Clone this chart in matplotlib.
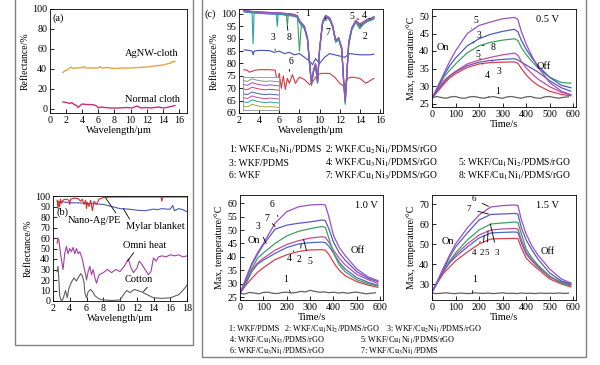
import matplotlib
matplotlib.use("Agg")
import matplotlib.pyplot as plt
from matplotlib.patches import Rectangle

plt.rcParams["font.family"] = ["Liberation Serif", "DejaVu Serif"]
plt.rcParams["mathtext.fontset"] = "stix"
plt.rcParams["font.size"] = 7.5

W, H = 600, 365

# ---------------- (a) ----------------
a_ag_x = [1.6, 1.8, 2.0, 2.3, 2.6, 2.8, 3.0, 3.5, 4.0, 4.2, 4.5, 5, 6.0, 6.2, 6.5, 7, 8, 9, 10, 11, 12, 13, 14, 14.5, 15, 15.1, 15.5]
a_ag_y = [36.5, 38, 38.5, 40, 42, 40.5, 41, 41, 41.5, 42.5, 41, 41, 41, 42.5, 41, 41.5, 40.5, 41, 41, 41.5, 42, 43, 44, 45, 46, 47, 47.5]
a_nc_x = [1.6, 2.0, 2.5, 2.7, 3.0, 3.3, 3.5, 3.8, 4.0, 4.5, 5.0, 5.5, 5.8, 6.0, 6.3, 6.8, 7.5, 8.5, 9.5, 10.2, 10.8, 11.3, 12, 12.5, 13, 13.5, 14, 14.5, 15, 15.5]
a_nc_y = [7, 6.5, 5.5, 6.5, 4.5, 3.5, 1.5, 4, 5, 4.5, 4.5, 4, 3, 1, 2, 1.5, 1, 1, 1.5, 1, 3, 1, 1.5, 1, 1.5, 2, 1, 1.5, 2.5, 3.5]

# ---------------- (b) ----------------
b_ag_x = [2.5, 2.6, 2.7, 2.8, 2.9, 3.0, 3.2, 3.5, 3.9, 4.0, 4.1, 4.5, 5.0, 5.3, 5.5, 5.7, 5.9, 6.0, 6.1, 6.3, 6.5, 6.7, 6.9, 7.2, 7.5, 8, 9, 10, 11, 12, 13, 14, 14.9, 15.0, 15.1, 16, 17, 18]
b_ag_y = [96, 88, 95, 90, 97, 93, 96, 97, 96, 92, 97, 98, 97.5, 95, 97, 92, 96, 88, 94, 90, 96, 86, 95, 92, 97, 98.5, 99, 99, 99, 99, 99, 99, 99, 95, 99, 99, 99, 99]
b_my_x = [2.5, 3, 3.5, 4, 5, 6, 7, 8, 9, 10, 11, 12, 13, 14, 14.5, 15, 15.5, 16, 16.3, 16.5, 17, 17.5, 18]
b_my_y = [95, 94.5, 94, 93.5, 93.5, 93, 92.5, 92, 90, 88, 87.5, 86.5, 86, 87.5, 87, 88, 87.5, 87.5, 91, 86, 88, 87, 85]
b_om_x = [2.5, 2.6, 2.7, 2.9, 3.0, 3.2, 3.4, 3.6, 3.8, 4.0, 4.2, 4.4, 4.6, 4.8, 5.0, 5.2, 5.5, 5.7, 5.9, 6.0, 6.2, 6.4, 6.6, 6.8, 7.0, 7.2, 7.5, 8.0, 8.5, 9.0, 9.5, 10.0, 10.5, 11.0, 11.3, 11.6, 12.0, 12.3, 12.6, 13.0, 13.4, 13.7, 14.0, 14.3, 14.6, 15, 15.5, 16, 16.5, 17, 17.5, 18]
b_om_y = [55, 60, 58, 45, 40, 30, 45, 52, 45, 50, 47, 51, 45, 50, 45, 47, 40, 32, 25, 20, 28, 33, 25, 30, 22, 17, 25, 27, 30, 27, 30, 28, 33, 40, 32, 27, 31, 38, 35, 30, 25, 28, 41, 38, 42, 43, 42, 44, 43, 44, 42, 43]
b_co_x = [2.5, 2.6, 2.7, 2.8, 3.0, 3.2, 3.5, 3.7, 3.9, 4.2, 4.5, 4.8, 5.0, 5.3, 5.5, 5.7, 5.8, 6.0, 6.2, 6.5, 6.8, 7.0, 7.5, 8, 9, 10, 10.5, 10.8, 11.2, 11.7, 12.5, 13, 13.5, 14, 15, 16, 17, 17.5, 18]
b_co_y = [28, 33, 20, 5, 0, 2, 10, 3, 12, 18, 22, 19, 22, 26, 24, 18, 8, 3, 9, 11, 8, 5, 2, 1, 0.5, 1, 7, 10, 8, 11, 9, 7, 5, 3, 2.5, 3, 6, 10, 15]

# ---------------- (c) spectra ----------------
c_w = [2.5, 3.0, 3.3, 3.4, 3.5, 4.0, 5.0, 5.7, 5.8, 5.9, 6.5, 6.7, 6.8, 6.9, 7.5, 7.8, 8.0, 8.2, 8.5, 8.8, 9.0, 9.2, 9.4, 9.6, 9.8, 10.0, 10.3, 10.6, 11.0, 11.3, 11.6, 11.9, 12.2, 12.4, 12.55, 12.7, 12.9, 13.2, 13.6, 14.0, 14.4, 14.8, 15.2, 15.4]
c_pur = [101.5, 101.2, 101, 101, 101, 100.8, 100.6, 100.5, 100.3, 100.5, 100.3, 100.2, 100, 100.2, 99.8, 99.3, 97.5, 96.5, 95, 90.5, 81, 72.5, 77.5, 80, 73, 86, 97, 99.5, 98.5, 95.5, 89.5, 90.5, 86.5, 73, 65, 76, 89, 94.5, 97.5, 96, 97, 98, 98.5, 99]
c_teal = [101, 100.7, 100.5, 88, 100.4, 100.3, 100.1, 100, 95, 100, 99.8, 99.6, 99.4, 99.6, 99.3, 98.8, 96.8, 95.8, 94.2, 89.5, 79.5, 71.5, 76.5, 79, 72, 85, 96, 98.8, 97.8, 94.8, 88.5, 89.5, 85.5, 71.5, 63.5, 74.5, 87.5, 93.5, 96.5, 94, 96, 97, 97.5, 98]
c_grn = [101.2, 101, 100.8, 100.8, 100.8, 100.6, 100.4, 100.3, 100.1, 100.3, 100, 99.8, 95, 99.8, 99.5, 99, 85, 96, 94.5, 90, 80, 72, 77, 79.5, 72.5, 85.5, 96.5, 99, 98, 95, 89, 90, 86, 72, 64, 75, 88, 94, 97, 95.5, 96.5, 97.5, 98, 98.5]
c_red = [101.3, 101.1, 100.9, 100.9, 100.9, 100.7, 100.5, 100.4, 100.2, 100.4, 100.1, 100, 99.8, 100, 99.6, 99.1, 97.2, 96.2, 94.8, 90.2, 80.5, 71, 77, 79.8, 72.2, 85.8, 96.8, 99.3, 98.3, 95.3, 89.2, 90.2, 86.2, 72.5, 66, 75.5, 88.5, 94.2, 97.2, 94.5, 96, 97.5, 98.3, 98.8]
c_blu = [100.8, 100.6, 100.4, 100.4, 100.4, 100.2, 100, 99.9, 99.7, 99.9, 99.6, 99.4, 99.2, 99.4, 99, 98.5, 96.5, 95.5, 94, 89.5, 79.8, 71.8, 76.8, 79.2, 72.2, 85.2, 96.2, 98.6, 97.6, 94.6, 88.8, 89.8, 85.8, 72, 64.5, 75, 88, 93.8, 96.8, 95.2, 96.2, 97.2, 97.8, 98.2]
c_mag = [101.4, 101.2, 101, 101, 101, 100.8, 100.6, 100.4, 100.3, 100.4, 100.2, 100.1, 99.9, 100.1, 99.7, 99.2, 97.3, 96.3, 94.8, 90.3, 80.8, 72.3, 77.3, 79.8, 72.8, 85.8, 96.8, 99.2, 98.2, 95.2, 89.3, 90.3, 86.3, 72.8, 64.8, 75.8, 88.8, 94.3, 97.3, 95.8, 96.8, 97.8, 98.3, 98.7]
c3_w = [2.5, 3.0, 3.3, 3.4, 3.5, 4.0, 5.0, 5.5, 6.0, 6.5, 7.0, 7.5, 8.0, 8.5, 9.0, 9.3, 9.6, 10.0, 10.5, 11.0, 11.5, 12.0, 12.5, 13.0, 14.0, 15.0, 15.4]
c3_r = [85.5, 85.3, 85, 83.5, 85, 85.3, 85.2, 84.5, 85, 84, 84.5, 83.5, 84, 82.5, 81, 79.5, 82, 80, 82.5, 84, 83.5, 83, 82.5, 84, 83.5, 83.5, 83.8]
c6_w = [2.5, 2.8, 3.0, 3.3, 3.5, 4.0, 5.0, 5.6, 5.8, 6.0, 6.2, 6.4, 6.6, 6.8, 7.0, 7.3, 7.6, 8.0, 8.5, 9.0, 9.3, 9.8, 10.2, 11.0, 11.5, 12.0, 12.5, 12.8, 13.2, 14.0, 14.6, 15.0, 15.4]
c6_r = [77.5, 77.3, 76.5, 76.8, 77.2, 77.5, 77.5, 77.3, 72, 76, 70, 75, 69.5, 74, 72, 75.5, 72, 74.5, 73.5, 71.5, 72.5, 75.5, 76, 76, 74.5, 72, 70.5, 74, 74.5, 74, 72, 73, 74]
ins_x = [0, 1, 2, 3, 4, 5, 6, 7, 8]
ins_lines = [
    [8.2, 8.0, 8.6, 8.3, 8.1, 8.0, 8.1, 8.0, 7.9],
    [7.3, 7.1, 7.7, 7.4, 7.2, 7.1, 7.2, 7.1, 7.0],
    [6.3, 6.1, 6.7, 6.4, 6.2, 6.1, 6.2, 6.1, 6.0],
    [5.2, 5.0, 5.6, 5.3, 5.1, 5.0, 5.1, 5.0, 4.9],
    [4.3, 4.1, 4.7, 4.4, 4.2, 4.1, 4.2, 4.1, 4.0],
    [3.4, 3.2, 3.8, 3.5, 3.3, 3.2, 3.3, 3.2, 3.1],
    [2.4, 2.2, 2.8, 2.5, 2.3, 2.2, 2.3, 2.2, 2.1],
]
ins_cols = ["#909090", "#9a50c0", "#d04060", "#4a60c0", "#c050a0", "#30a0a0", "#a0b040"]

# ---------------- temperature curves ----------------
t = [0, 25, 50, 75, 100, 150, 200, 250, 300, 350, 365, 380, 400, 425, 450, 500, 550, 590]
t1 = [0, 20, 40, 60, 80, 100, 120, 140, 160, 180, 200, 220, 240, 260, 280, 300, 320, 340, 360, 380, 400, 420, 440, 460, 480, 500, 520, 540, 560, 580]
v05_5a = [26.5, 30, 33.5, 37, 40, 45, 47.3, 48.3, 49.2, 49.6, 49, 45.5, 42, 38.5, 35.5, 31, 28.5, 27.5]
v05_3a = [26.5, 29.5, 33, 35.8, 38, 41.5, 43.5, 44.8, 45.6, 46.2, 45.5, 43, 40.5, 38, 35.8, 32.5, 30.2, 29.5]
v05_8 = [26.5, 29.5, 32.5, 34.5, 36.3, 39.5, 41.5, 42.5, 43.1, 43.5, 43, 41, 39, 37, 35.2, 32.5, 31, 30.8]
v05_5b = [26.5, 29, 31.5, 33, 34.2, 36.3, 37.4, 38.2, 38.9, 39.4, 38.8, 37, 35.2, 33.5, 32, 29.8, 28.2, 27.5]
v05_3b = [26.5, 28.8, 31, 32.8, 34, 35.8, 36.8, 37.3, 37.6, 37.8, 37.4, 36.8, 36, 35, 34, 31.5, 29.5, 28.5]
v05_4 = [26.5, 28.5, 30.5, 32.3, 33.5, 35.3, 36.3, 36.7, 36.8, 36.9, 36.5, 35, 33.2, 31.5, 30.2, 28.5, 27.6, 27.2]
v05_1 = [26.6, 27.0, 26.7, 26.5, 26.9, 27.0, 26.6, 26.5, 26.9, 27.0, 26.7, 26.5, 26.8, 27.0, 26.7, 26.5, 26.9, 27.0, 26.7, 26.5, 26.9, 27.0, 26.6, 26.5, 26.9, 27.0, 26.7, 26.5, 26.8, 26.9]

v10_6 = [26.5, 32, 37.5, 41.5, 45, 52.5, 56.8, 58.6, 59.3, 59.5, 59.3, 55, 48, 43.5, 40.5, 35.5, 32.5, 31.2]
v10_7 = [26.5, 31.5, 37, 41, 44.5, 50.3, 51.8, 52.5, 53, 53.7, 53.5, 50.5, 45.5, 41.5, 38.8, 34.5, 32, 30.8]
v10_3 = [26.5, 30.5, 35.5, 39.5, 41.5, 45, 47.8, 49.5, 50.5, 51.3, 51, 47, 41.5, 37, 34.5, 31.5, 30, 29.2]
v10_5 = [26.5, 30.5, 35, 37.8, 39.5, 42.5, 44.6, 46, 47, 47.5, 47.3, 45.5, 42.5, 39.5, 37, 33.5, 31.5, 30.2]
v10_2 = [26.5, 30, 34.5, 37.3, 38.8, 41.3, 43.5, 44.8, 45.3, 45.5, 45.3, 44, 41.5, 38, 35.5, 32.3, 30.5, 29.5]
v10_4 = [26.5, 29.5, 32, 34.3, 36, 39, 40.8, 42, 42.6, 42.7, 42.5, 41, 38, 35, 33, 30.8, 29.5, 28.7]
v10_1 = [26.5, 26.2, 26.8, 26.6, 26.3, 26.8, 26.9, 26.5, 26.4, 26.8, 26.9, 26.6, 26.8, 27.2, 27.0, 27.6, 27.2, 26.9, 27.0, 26.7, 26.9, 26.6, 26.8, 26.5, 26.8, 26.9, 26.6, 26.3, 26.5, 26.7]

v15_6 = [26, 32, 38.5, 44.5, 50, 58, 64.5, 68.5, 69.2, 69.5, 69.3, 62, 55, 49, 44.5, 37.5, 32.5, 30.5]
v15_7 = [26, 31.5, 37.5, 43.5, 48.5, 55.5, 62, 64.8, 65, 65.3, 65, 58, 52, 47, 42.5, 35.5, 31.5, 30]
v15_3 = [26, 31.5, 37, 41.5, 45.5, 52, 57, 60, 60.5, 61, 60.8, 55, 47.5, 43, 39.5, 34, 30.5, 29]
v15_5 = [26, 31.5, 36.5, 41, 44.5, 50, 54.5, 57, 57.5, 57.8, 57.5, 52, 46, 42, 39, 33.5, 30.5, 29.5]
v15_2 = [26, 31.5, 36.5, 40.5, 43.5, 48.5, 53, 55.5, 55.8, 56, 55.8, 50.5, 45, 41.5, 38.5, 33.5, 31, 30]
v15_4 = [26, 31, 35.5, 38.5, 41.5, 46, 50, 52.5, 52.7, 52.8, 52.7, 48, 43, 40, 37.5, 32.5, 30, 28.5]
v15_1 = [25.5, 25.2, 25.4, 25.6, 25.3, 25.2, 25.5, 25.3, 25.2, 25.6, 25.4, 25.3, 25.5, 25.2, 25.4, 25.6, 25.3, 25.4, 25.2, 25.5, 25.3, 25.4, 25.2, 25.5, 25.3, 25.4, 25.3, 25.5, 25.3, 25.4]

PUR, BPU, GRN, MAG, BLU, RED, GRY = "#9a4fc8", "#5a5ac0", "#3fa060", "#c24c9e", "#4a68c8", "#d8404f", "#606060"


def box(x0, y0, x1, y1):
    return [x0 / W, 1 - y1 / H, (x1 - x0) / W, (y1 - y0) / H]


def ftext(x, y, s, **kw):
    fig.text(x / W, 1 - y / H, s, **kw)


def style(ax):
    ax.tick_params(direction="in", length=3, width=0.6, labelsize=7.2, pad=2)
    for sp in ax.spines.values():
        sp.set_linewidth(0.6)


def lead(ax, s, xy, xyt, fs=7):
    ax.annotate(s, xy=xy, xytext=xyt, ha="center", va="center", fontsize=fs,
                arrowprops=dict(arrowstyle="-", lw=0.6, color="k", shrinkA=3, shrinkB=0))


fig = plt.figure(figsize=(6, 3.65), dpi=100)

# frames
fig.patches.append(Rectangle((15 / W, 1 - 345 / H), 178 / W, 350 / H, transform=fig.transFigure,
                             fill=False, edgecolor="#808080", lw=1))
fig.patches.append(Rectangle((202 / W, 1 - 357 / H), 384 / W, 362 / H, transform=fig.transFigure,
                             fill=False, edgecolor="#808080", lw=1))

# (a)
ax = fig.add_axes(box(50, 9, 187, 113))
ax.plot(a_ag_x, a_ag_y, color="#e3a545", lw=1)
ax.plot(a_nc_x, a_nc_y, color="#c0307e", lw=1)
ax.set_xlim(0, 17)
ax.set_ylim(-4, 100)
ax.set_xticks(range(0, 17, 2))
ax.set_yticks(range(0, 101, 20))
ax.set_xlabel("Wavelength/μm", labelpad=1)
ax.set_ylabel("Reflectance/%", labelpad=2, fontsize=7)
ax.text(0.3, 96, "(a)", va="top")
ax.text(9.3, 56, "AgNW-cloth", va="center")
ax.text(9.3, 10, "Normal cloth", va="center")
style(ax)

# (b)
ax = fig.add_axes(box(53, 196, 187, 301))
ax.plot(b_co_x, b_co_y, color=GRY, lw=0.8)
ax.plot(b_om_x, b_om_y, color="#a43ea6", lw=0.8)
ax.plot(b_my_x, b_my_y, color="#4a5ab0", lw=0.8)
ax.plot(b_ag_x, b_ag_y, color="#d03030", lw=0.8)
ax.set_xlim(2, 18)
ax.set_ylim(0, 100)
ax.set_xticks(range(2, 19, 2))
ax.set_yticks(range(0, 101, 10))
ax.set_xlabel("Wavelength/μm", labelpad=1)
ax.set_ylabel("Reflectance/%", labelpad=2, fontsize=7)
ax.text(2.4, 85, "(b)", va="center")
ax.annotate("Nano-Ag/PE", xy=(8.3, 98), xytext=(3.8, 77), va="center", fontsize=7.5,
            arrowprops=dict(arrowstyle="-", lw=0.6, shrinkA=0, shrinkB=0, relpos=(0.95, 0.8)))
ax.annotate("Mylar blanket", xy=(10.4, 88), xytext=(10.7, 71), va="center", fontsize=7.5,
            arrowprops=dict(arrowstyle="-", lw=0.6, shrinkA=0, shrinkB=0, relpos=(0.1, 0.9)))
ax.annotate("Omni heat", xy=(10.9, 38), xytext=(10.4, 53), va="center", fontsize=7.5,
            arrowprops=dict(arrowstyle="-", lw=0.6, shrinkA=0, shrinkB=0, relpos=(0.3, 0.1)))
ax.annotate("Cotton", xy=(12.8, 9), xytext=(10.6, 20), va="center", fontsize=7.5,
            arrowprops=dict(arrowstyle="-", lw=0.6, shrinkA=0, shrinkB=0, relpos=(0.9, 0.1)))
style(ax)

# (c) spectra
ax = fig.add_axes(box(239, 9, 383, 113))
ax.plot(c6_w, c6_r, color="#d03a44", lw=0.8)
ax.plot(c3_w, c3_r, color="#3c50b8", lw=0.8)
for yy, cc in [(c_blu, BLU), (c_red, RED), (c_grn, GRN), (c_mag, MAG), (c_teal, "#30a0a0"), (c_pur, PUR)]:
    ax.plot(c_w, yy, color=cc, lw=0.8)
ax.set_xlim(2, 16.3)
ax.set_ylim(60, 102)
ax.set_xticks(range(2, 17, 2))
ax.set_yticks(range(60, 101, 5))
ax.set_xlabel("Wavelength/μm", labelpad=1)
ax.set_ylabel("Reflectance/%", labelpad=2, fontsize=7)
lead(ax, "1", (7.8, 100.6), (8.8, 100.2))
lead(ax, "3", (5.6, 85.3), (5.35, 90.4))
lead(ax, "8", (6.8, 95), (6.95, 90.4))
lead(ax, "7", (10.6, 98.6), (10.8, 92.6))
lead(ax, "5", (13.9, 97.8), (13.2, 98.9))
lead(ax, "4", (15.0, 98.0), (14.4, 99.3))
lead(ax, "2", (14.1, 95.5), (14.5, 90.8))
lead(ax, "6", (7.0, 76.8), (7.15, 80.6))
style(ax)
ftext(204, 14, "(c)", va="center", ha="left")

axi = fig.add_axes(box(243, 77, 279, 110))
for yy, cc in zip(ins_lines, ins_cols):
    axi.plot(ins_x, yy, color=cc, lw=0.7)
axi.set_xlim(0, 8)
axi.set_ylim(1.5, 9)
axi.set_xticks([])
axi.set_yticks([])
for sp in axi.spines.values():
    sp.set_color("#909090")
    sp.set_linewidth(0.6)

# legend for (c) and 0.5 V
leg_c = [
    (229, 150, r"1: WKF/Cu$_3$Ni$_1$/PDMS"), (325, 150, r"2: WKF/Cu$_2$Ni$_1$/PDMS/rGO"),
    (229, 163, "3: WKF/PDMS"), (325, 163, r"4: WKF/Cu$_3$Ni$_1$/PDMS/rGO"), (458, 163, r"5: WKF/Cu$_1$Ni$_2$/PDMS/rGO"),
    (229, 176, "6: WKF"), (325, 176, r"7: WKF/Cu$_1$Ni$_3$/PDMS/rGO"), (458, 176, r"8: WKF/Cu$_1$Ni$_1$/PDMS/rGO"),
]
for x, y, s in leg_c:
    ftext(x, y, s, va="center", ha="left", fontsize=6.9)

# 0.5 V
ax = fig.add_axes(box(432, 9, 576, 107))
ax.plot(t1, v05_1, color=GRY, lw=0.9)
for yy, cc in [(v05_4, RED), (v05_3b, BPU), (v05_5b, MAG), (v05_8, GRN), (v05_3a, "#4a5cc0"), (v05_5a, PUR)]:
    ax.plot(t, yy, color=cc, lw=0.9)
ax.set_xlim(0, 612)
ax.set_ylim(24, 52)
ax.set_xticks(range(0, 601, 100))
ax.set_yticks(range(25, 51, 5))
ax.set_xlabel("Time/s", labelpad=1)
ax.set_ylabel("Max, temperature/°C", labelpad=2, fontsize=7)
ax.text(491, 49, "0.5 V", ha="center", va="center")
ax.text(21, 41, "On", va="center")
ax.text(474, 35.7, "Off", ha="center", va="center")
lead(ax, "5", (168, 46.5), (188, 48.6))
lead(ax, "3", (175, 42.3), (200, 44.3))
lead(ax, "8", (215, 41.6), (261, 40.9))
lead(ax, "5", (205, 37.6), (197, 39.1))
lead(ax, "3", (255, 37.2), (286, 34))
lead(ax, "4", (215, 36.3), (235, 33.1))
lead(ax, "1", (240, 26.9), (278, 28.3))
style(ax)

# 1.0 V
ax = fig.add_axes(box(240, 195, 383, 300))
ax.plot(t1, v10_1, color=GRY, lw=0.9)
for yy, cc in [(v10_4, RED), (v10_2, BLU), (v10_5, MAG), (v10_3, GRN), (v10_7, BPU), (v10_6, PUR)]:
    ax.plot(t, yy, color=cc, lw=0.9)
ax.set_xlim(0, 612)
ax.set_ylim(24, 63)
ax.set_xticks(range(0, 601, 100))
ax.set_yticks(range(25, 61, 5))
ax.set_xlabel("Time/s", labelpad=1)
ax.set_ylabel("Max, temperature/°C", labelpad=2, fontsize=7)
ax.text(539, 59.2, "1.0 V", ha="center", va="center")
ax.text(34, 46.1, "On", va="center")
ax.text(504, 42.3, "Off", ha="center", va="center")
lead(ax, "6", (162, 55), (138, 59.6))
lead(ax, "7", (150, 51.3), (116, 54.4))
lead(ax, "3", (112, 45), (78, 51.4))
lead(ax, "4", (230, 42.3), (211, 39.3))
lead(ax, "2", (262, 44.9), (254, 39))
lead(ax, "5", (272, 46.5), (297, 38.2))
lead(ax, "1", (215, 26.9), (194, 31.8))
style(ax)

# 1.5 V
ax = fig.add_axes(box(432, 195, 576, 300))
ax.plot(t1, v15_1, color=GRY, lw=0.9)
for yy, cc in [(v15_4, RED), (v15_2, BLU), (v15_5, MAG), (v15_3, GRN), (v15_7, BPU), (v15_6, PUR)]:
    ax.plot(t, yy, color=cc, lw=0.9)
ax.set_xlim(0, 612)
ax.set_ylim(22, 74.5)
ax.set_xticks(range(0, 601, 100))
ax.set_yticks(range(30, 71, 10))
ax.set_xlabel("Time/s", labelpad=1)
ax.set_ylabel("Max, temperature/°C", labelpad=2, fontsize=7)
ax.text(491, 69, "1.5 V", ha="center", va="center")
ax.text(43, 51.5, "On", va="center")
ax.text(491, 46.5, "Off", ha="center", va="center")
lead(ax, "6", (240, 68.8), (176, 72.5), fs=6.5)
lead(ax, "7", (240, 65), (156, 67.5), fs=6.5)
lead(ax, "4", (205, 51.3), (180, 45.5), fs=6.5)
lead(ax, "2", (222, 54.3), (212, 45.5), fs=6.5)
lead(ax, "5", (238, 56.5), (234, 45.5), fs=6.5)
lead(ax, "3", (248, 60), (276, 45.5), fs=6.5)
lead(ax, "1", (172, 25.4), (180, 32.5))
style(ax)

leg_t = [
    (229, 329, "1: WKF/PDMS"), (284, 329, r"2: WKF/Cu$_1$Ni$_2$/PDMS/rGO"), (386, 329, r"3: WKF/Cu$_2$Ni$_1$/PDMS/rGO"),
    (229, 340, r"4: WKF/Cu$_1$Ni$_3$/PDMS/rGO"), (360, 340, r"5: WKF/Cu$_1$Ni$_1$/PDMS/rGO"),
    (229, 351, r"6: WKF/Cu$_3$Ni$_1$/PDMS/rGO"), (360, 351, r"7: WKF/Cu$_3$Ni$_1$/PDMS"),
]
for x, y, s in leg_t:
    ftext(x, y, s, va="center", ha="left", fontsize=5.9)

fig.savefig("out.png", dpi=100)
